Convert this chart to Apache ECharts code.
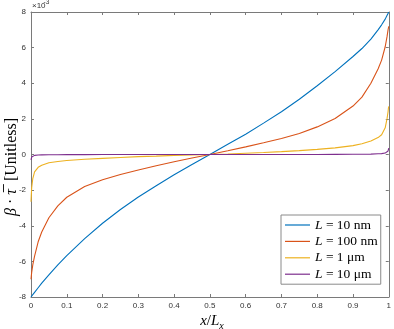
<!DOCTYPE html>
<html>
<head>
<meta charset="utf-8">
<script src="https://cdn.jsdelivr.net/npm/echarts@6/dist/echarts.min.js"></script>
<style>
  html, body { margin: 0; padding: 0; background: #fff; }
  #chart { width: 394px; height: 329px; }
</style>
</head>
<body>
<div id="chart"></div>
<script>
// x / L_x sample positions (dense near the walls)
const xs = [0, 0.001, 0.002, 0.005, 0.01, 0.02, 0.03, 0.05, 0.075, 0.1, 0.15, 0.2, 0.25, 0.3, 0.35, 0.4, 0.45, 0.5,
  0.55, 0.6, 0.65, 0.7, 0.75, 0.8, 0.85, 0.9, 0.925, 0.95, 0.97, 0.98, 0.99, 0.995, 0.998, 0.999, 1];

// beta * tau, in units of 1e-3
const y10nm = [-8.0, -7.97, -7.95, -7.87, -7.74, -7.48, -7.22, -6.76, -6.2, -5.68, -4.72, -3.86, -3.09, -2.39, -1.75, -1.14, -0.56, 0,
  0.57, 1.14, 1.76, 2.4, 3.1, 3.86, 4.65, 5.5, 5.95, 6.48, 7.0, 7.28, 7.6, 7.8, 7.92, 7.96, 8.0];
const y100nm = [-7.0, -6.8, -6.6, -6.2, -5.7, -4.9, -4.35, -3.55, -2.88, -2.4, -1.8, -1.42, -1.12, -0.87, -0.63, -0.41, -0.2, 0,
  0.21, 0.43, 0.66, 0.9, 1.18, 1.55, 2.02, 2.72, 3.22, 4.0, 4.8, 5.3, 6.05, 6.6, 7.0, 7.1, 7.2];
const y1um = [-2.65, -2.2, -1.85, -1.35, -0.98, -0.72, -0.6, -0.46, -0.39, -0.34, -0.27, -0.22, -0.17, -0.12, -0.09, -0.05, -0.02, 0,
  0.03, 0.07, 0.11, 0.16, 0.22, 0.29, 0.37, 0.5, 0.6, 0.76, 0.95, 1.11, 1.5, 2.0, 2.4, 2.6, 2.7];
const y10um = [-0.3, -0.2, -0.14, -0.08, -0.05, -0.03, -0.02, -0.015, -0.01, -0.008, -0.005, -0.004, -0.003, -0.002, -0.001, -0.001, 0, 0,
  0, 0.001, 0.001, 0.002, 0.003, 0.004, 0.006, 0.01, 0.015, 0.02, 0.04, 0.05, 0.08, 0.12, 0.2, 0.26, 0.36];

const seriesNames = ['10 nm', '100 nm', '1 μm', '10 μm'];
const seriesColors = ['#0072BD', '#D95319', '#EDB120', '#7E2F8E'];
const seriesValues = [y10nm, y100nm, y1um, y10um];

const axisGray = '#7a7a7a';
const labelColor = '#333';
const sansFont = 'Liberation Sans, Arial, sans-serif';
const serifFont = 'Liberation Serif, DejaVu Serif, serif';

const chart = echarts.init(document.getElementById('chart'));

function makeX(pos, showLabel) {
  return {
    type: 'value', position: pos, min: 0, max: 1, interval: 0.1,
    axisLine: { show: true, onZero: false, lineStyle: { color: axisGray, width: 1 } },
    axisTick: { show: true, inside: true, length: 3, lineStyle: { color: axisGray } },
    axisLabel: {
      show: showLabel, fontSize: 8, color: labelColor, fontFamily: sansFont, margin: 5,
      showMinLabel: true, showMaxLabel: true,
      formatter: v => String(+v.toFixed(1))
    },
    splitLine: { show: false }
  };
}
function makeY(pos, showLabel) {
  return {
    type: 'value', position: pos, min: -8, max: 8, interval: 2,
    axisLine: { show: true, onZero: false, lineStyle: { color: axisGray, width: 1 } },
    axisTick: { show: true, inside: true, length: 3, lineStyle: { color: axisGray } },
    axisLabel: { show: showLabel, fontSize: 8, color: labelColor, fontFamily: sansFont, margin: 5 },
    splitLine: { show: false }
  };
}

const option = {
  animation: false,
  backgroundColor: '#fff',
  grid: { left: 31, right: 1, top: 12, bottom: 32, containLabel: false },
  xAxis: [makeX('bottom', true), makeX('top', false)],
  yAxis: [makeY('left', true), makeY('right', false)],
  legend: {
    orient: 'vertical',
    left: 281, top: 215,
    padding: [3, 3, 3, 4],
    icon: 'rect',
    itemWidth: 25, itemHeight: 1.2, itemGap: 2.4,
    borderColor: '#8a8a8a', borderWidth: 1, backgroundColor: '#fff',
    data: seriesNames,
    formatter: name => '{i|L}{n| = ' + name + '}',
    textStyle: {
      color: '#000', fontFamily: serifFont, fontSize: 13.5, lineHeight: 14,
      rich: {
        i: { fontStyle: 'italic', fontFamily: serifFont, fontSize: 13.5, lineHeight: 14, color: '#000' },
        n: { fontFamily: serifFont, fontSize: 13.5, lineHeight: 14, color: '#000' }
      }
    }
  },
  graphic: [
    {
      type: 'text', x: 32, y: 6,
      style: { text: '×10', fontSize: 8, fill: labelColor, fontFamily: sansFont, verticalAlign: 'middle' }
    },
    {
      type: 'text', x: 43.5, y: 2.5,
      style: { text: '-3', fontSize: 6.5, fill: labelColor, fontFamily: sansFont, verticalAlign: 'middle' }
    },
    {
      // y axis title
      type: 'text', x: 12, y: 167, rotation: Math.PI / 2,
      style: {
        text: '{i|β}{n| · }{i|τ\u0305}{n|  [Unitless]}',
        align: 'center', verticalAlign: 'middle',
        rich: {
          i: { fontStyle: 'italic', fontFamily: serifFont, fontSize: 16, fill: '#000' },
          n: { fontFamily: serifFont, fontSize: 16, fill: '#000' }
        }
      }
    },
    {
      // x axis title
      type: 'text', x: 212, y: 321,
      style: {
        text: '{i|x}{n|/}{i|L}{s|x}',
        align: 'center', verticalAlign: 'middle',
        rich: {
          i: { fontStyle: 'italic', fontFamily: serifFont, fontSize: 15, lineHeight: 20, fill: '#000' },
          n: { fontFamily: serifFont, fontSize: 15, lineHeight: 20, fill: '#000' },
          s: { fontStyle: 'italic', fontFamily: serifFont, fontSize: 10, lineHeight: 10, verticalAlign: 'bottom', fill: '#000' }
        }
      }
    }
  ],
  series: seriesNames.map((name, k) => ({
    name: name,
    type: 'line',
    xAxisIndex: 0, yAxisIndex: 0,
    symbol: 'none',
    color: seriesColors[k],
    lineStyle: { width: 1.1, color: seriesColors[k] },
    data: xs.map((x, i) => [x, seriesValues[k][i]])
  }))
};

chart.setOption(option);
</script>
</body>
</html>
